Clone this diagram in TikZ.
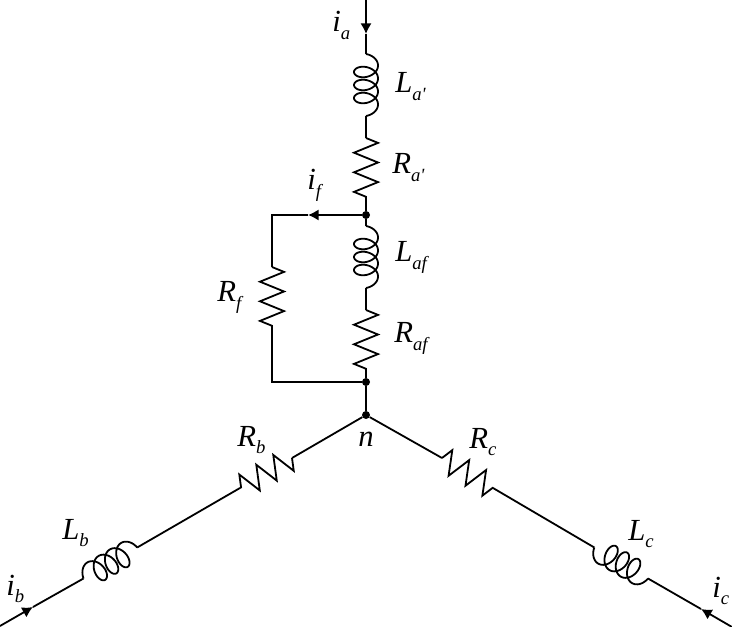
\documentclass[tikz,border=0pt]{standalone}
\usepackage{fontspec}
\setmainfont[Ligatures=TeXOff]{Liberation Serif}
\usetikzlibrary{decorations.pathmorphing,arrows.meta}
\newcommand{\sym}[2]{\textit{#1}\raisebox{-0.24em}{\fontsize{14}{16}\selectfont\textit{#2}}}
\tikzset{
	wire/.style={line width=1.35pt},
	tip/.style={wire,-{Latex[length=8pt,width=8.5pt]}},
	dot/.style={circle,fill=black,inner sep=0pt,minimum size=6pt},
	res/.style={wire,decorate,decoration={zigzag,segment length=14.7pt,amplitude=9pt}},
	lbl/.style={inner sep=0pt,anchor=base west,font=\fontsize{23}{26}\selectfont},
	pics/coilsym/.style={code={
		\draw[wire] plot[variable=\t,domain=-90:1170,samples=170,smooth] ({31+13*(\t-540)/360+8.25*sin(\t)},{-12*cos(\t)});
		\coordinate (-s) at (0,0);
		\coordinate (-e) at (62,0);
	}},
}
\begin{document}
\begin{tikzpicture}[x=0.75pt,y=-0.75pt]
	\useasboundingbox (0,0) rectangle (732,627);
	% phase a
	\coordinate (top) at (366,0);
	\coordinate (ia) at (366,34);
	\pic (la) at (366,54) [rotate=-90] {coilsym};
	\coordinate (ra1) at (366,138);
	\coordinate (ra2) at (366,197);
	\node at (366,215)(d1)[dot]{};
	\pic (laf) at (366,226) [rotate=-90] {coilsym};
	\coordinate (raf1) at (366,310);
	\coordinate (raf2) at (366,369);
	\node at (366,382)(d2)[dot]{};
	\node at (366,415)(n)[dot]{};
	% field branch
	\coordinate (if) at (308,215);
	\coordinate (c1) at (272,215);
	\coordinate (rf1) at (272,267);
	\coordinate (rf2) at (272,326);
	\coordinate (c2) at (272,382);
	% phase b
	\coordinate (rb1) at (292,458);
	\coordinate (rb2) at (240,488);
	\pic (lb) at (83.5,578.5) [rotate=30] {coilsym};
	\coordinate (ib) at (33,607);
	\coordinate (eb) at (0,626);
	% phase c
	\coordinate (rc1) at (442,458);
	\coordinate (rc2) at (493,488);
	\pic (lc) at (648,578.5) [rotate=150] {coilsym};
	\coordinate (ic) at (701,609);
	\coordinate (ec) at (732,627);

	\draw[tip] (top)--(ia);
	\draw[wire] (ia)--(la-s) (la-e)--(ra1) (ra2)--(d1) (d1)--(laf-s) (laf-e)--(raf1) (raf2)--(d2) (d2)--(n);
	\draw[res] (ra1)--(ra2);
	\draw[res] (raf1)--(raf2);

	\draw[tip] (d1)--(if);
	\draw[wire] (if)--(c1)--(rf1) (rf2)--(c2)--(d2);
	\draw[res] (rf1)--(rf2);

	\draw[wire] (n)--(rb1) (rb2)--(lb-e) (lb-s)--(ib);
	\draw[res] (rb1)--(rb2);
	\draw[tip] (eb)--(ib);

	\draw[wire] (n)--(rc1) (rc2)--(lc-e) (lc-s)--(ic);
	\draw[res] (rc1)--(rc2);
	\draw[tip] (ec)--(ic);

	\node at (332,32)(tia)[lbl]{\sym{i}{a}};
	\node at (395,93)(tla)[lbl]{\sym{L}{a'}};
	\node at (392,174)(tra)[lbl]{\sym{R}{a'}};
	\node at (307,190)(tif)[lbl]{\sym{i}{f}};
	\node at (395,262)(tlaf)[lbl]{\sym{L}{af}};
	\node at (394,343)(traf)[lbl]{\sym{R}{af}};
	\node at (217,302)(trf)[lbl]{\sym{R}{f}};
	\node at (358,446)(tn)[lbl]{\textit{n}};
	\node at (237,446)(trb)[lbl]{\sym{R}{b}};
	\node at (62,539)(tlb)[lbl]{\sym{L}{b}};
	\node at (6,595)(tib)[lbl]{\sym{i}{b}};
	\node at (469,448)(trc)[lbl]{\sym{R}{c}};
	\node at (628,540)(tlc)[lbl]{\sym{L}{c}};
	\node at (712,597)(tic)[lbl]{\sym{i}{c}};
\end{tikzpicture}
\end{document}
